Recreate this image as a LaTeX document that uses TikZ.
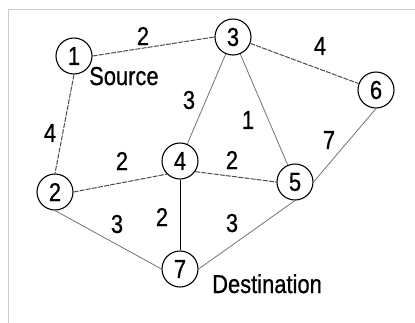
\documentclass[tikz,border=0pt]{standalone}
\usepackage{fontspec}
\setmainfont{Liberation Sans}[FakeBold=0.8]
\newcommand{\tall}[1]{\scalebox{0.88}[1.04]{#1}}
\begin{document}
\begin{tikzpicture}[x=1bp,y=-1bp,
  vert/.style={circle,draw=black,line width=1.1bp,minimum size=36bp,inner sep=0pt,font=\fontsize{25}{28}\selectfont},
  wlabel/.style={font=\fontsize{25}{28}\selectfont,inner sep=0pt,text=black},
  edge/.style={draw=black!55,line width=0.8bp},
  dedge/.style={draw=black!70,line width=1bp,dash pattern=on 5bp off 1.2bp},
  sedge/.style={draw=black,line width=1bp}]
\useasboundingbox (0,0) rectangle (415,323);
\draw[black!20,line width=0.8bp] (8,323) -- (8,9) -- (415,9);
\node[vert] (n1) at (74,56) {\tall{1}};
\node[vert] (n3) at (233,37) {\tall{3}};
\node[vert] (n6) at (376,90) {\tall{6}};
\node[vert] (n5) at (295,182) {\tall{5}};
\node[vert] (n4) at (180,161) {\tall{4}};
\node[vert] (n2) at (55,192) {\tall{2}};
\node[vert] (n7) at (180,269) {\tall{7}};
\draw[dedge] (n1.east) -- (n3.west);
\draw[dedge] (n1.south) -- (n2.north);
\draw[dedge] (n2.east) -- (n4.-135);
\draw[dedge] (n4.-35) -- (n5.west);
\draw[dedge] (n3) -- (n6);
\draw[edge] (n3) -- (n4);
\draw[edge] (n3) -- (n5);
\draw[edge] (n6.south) -- (n5.east);
\draw[edge] (n2.south) -- (n7.west);
\draw[edge] (n5.south) -- (n7.east);
\draw[sedge] (n4) -- (n7);
\node[wlabel] (l13) at (143,36) {\tall{2}};
\node[wlabel] (l36) at (320,46) {\tall{4}};
\node[wlabel] (l34) at (189,100) {\tall{3}};
\node[wlabel] (l35) at (248,120) {\tall{1}};
\node[wlabel] (l65) at (329,140) {\tall{7}};
\node[wlabel] (l12) at (50,133) {\tall{4}};
\node[wlabel] (l24) at (122,161) {\tall{2}};
\node[wlabel] (l45) at (232,160) {\tall{2}};
\node[wlabel] (l47) at (162,217) {\tall{2}};
\node[wlabel] (l27) at (117,224) {\tall{3}};
\node[wlabel] (l57) at (232,223) {\tall{3}};
\node[wlabel,anchor=base west] (src) at (89,85) {\tall{Source}};
\node[wlabel,anchor=base west] (dst) at (212,293) {\tall{Destination}};
\end{tikzpicture}
\end{document}
